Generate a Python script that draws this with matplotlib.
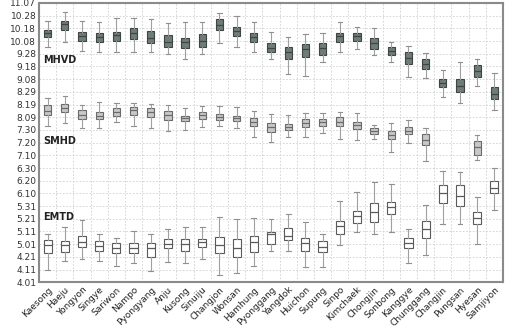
import matplotlib
matplotlib.use('Agg')
import matplotlib.pyplot as plt

stations = ['Kaesong', 'Haeju', 'Yongyon', 'Singye', 'Sariwon', 'Nampo', 'Pyongyang',
            'Anju', 'Kusong', 'Sinuiju', 'Changjon', 'Wonsan', 'Hamhung', 'Pyonggang',
            'Yangdok', 'Huichon', 'Supung', 'Sinpo', 'Kimchaek', 'Chongjin', 'Sonbong',
            'Kanggye', 'Chunggang', 'Changjin', 'Pungsan', 'Hyesan', 'Samjiyon']

# y tick labels (dates, evenly spaced) from bottom to top
ytick_labels = ['4.01', '4.11', '4.21', '5.01', '5.11', '5.21', '5.31', '6.10', '6.20',
                '6.30', '7.10', '7.20', '7.30', '8.09', '8.19', '8.29', '9.08', '9.18',
                '9.28', '10.08', '10.18', '10.28', '11.07']

# each entry: (whisker high, q3, median, q1, whisker low) in tick-index units
mhvd = [(20.60, 19.87, 19.61, 19.29, 18.51), (21.31, 20.60, 20.32, 19.87, 18.90),
        (20.60, 19.73, 19.42, 19.00, 18.21), (20.47, 19.61, 19.29, 18.90, 18.11),
        (20.79, 19.73, 19.47, 19.03, 18.11), (20.79, 20.00, 19.61, 19.16, 18.11),
        (20.71, 19.79, 19.21, 18.82, 18.11), (20.44, 19.47, 18.96, 18.53, 17.98),
        (20.52, 19.21, 18.90, 18.43, 17.58), (20.52, 19.53, 19.03, 18.51, 17.98),
        (21.23, 20.71, 20.26, 19.87, 18.82), (20.99, 20.08, 19.79, 19.40, 18.51),
        (20.52, 19.61, 19.29, 18.90, 18.16), (19.69, 18.82, 18.43, 18.11, 17.58),
        (19.29, 18.51, 18.11, 17.58, 16.40), (19.53, 18.77, 18.35, 17.72, 16.27),
        (19.61, 18.82, 18.43, 17.90, 17.32), (20.47, 19.61, 19.40, 18.95, 18.16),
        (20.08, 19.61, 19.40, 19.00, 18.37), (20.00, 19.26, 18.82, 18.37, 17.90),
        (18.95, 18.51, 18.21, 17.90, 17.32), (18.61, 18.16, 17.64, 17.19, 16.19),
        (18.03, 17.56, 17.17, 16.80, 16.06), (16.72, 15.99, 15.72, 15.40, 14.57),
        (17.37, 15.99, 15.48, 15.01, 14.10), (17.58, 17.11, 16.64, 16.14, 15.48),
        (16.46, 15.40, 14.80, 14.41, 13.57)]

smhd = [(14.49, 13.96, 13.49, 13.17, 12.31), (14.67, 14.02, 13.70, 13.39, 12.57),
        (13.96, 13.57, 13.17, 12.86, 12.13), (14.22, 13.43, 13.12, 12.84, 12.13),
        (14.10, 13.70, 13.43, 13.12, 12.60), (14.10, 13.78, 13.57, 13.17, 12.31),
        (14.04, 13.70, 13.39, 13.04, 12.13), (13.96, 13.49, 13.17, 12.78, 11.92),
        (13.75, 13.12, 12.96, 12.70, 11.99), (13.88, 13.43, 13.17, 12.86, 12.21),
        (13.88, 13.23, 13.04, 12.78, 12.33), (13.83, 13.12, 12.92, 12.70, 12.13),
        (13.49, 12.96, 12.65, 12.33, 11.47), (13.25, 12.57, 12.21, 11.81, 11.07),
        (13.17, 12.47, 12.25, 11.99, 11.47), (13.36, 12.84, 12.52, 12.21, 11.47),
        (13.31, 12.86, 12.60, 12.31, 11.78), (13.39, 12.99, 12.65, 12.31, 11.26),
        (13.36, 12.65, 12.39, 12.07, 11.21), (12.39, 12.13, 11.92, 11.68, 11.29),
        (12.52, 11.94, 11.60, 11.26, 10.29), (12.78, 12.21, 11.94, 11.68, 10.99),
        (12.13, 11.66, 11.21, 10.81, 9.55), None, None,
        (11.60, 11.15, 10.66, 9.99, 9.63), None]

emtd = [(3.78, 3.33, 2.94, 2.29, 0.97), (4.38, 3.28, 2.94, 2.36, 1.70),
        (4.91, 3.65, 3.20, 2.76, 1.81), (3.80, 3.28, 2.88, 2.49, 1.70),
        (3.47, 3.07, 2.68, 2.29, 1.29), (4.06, 3.07, 2.68, 2.29, 1.50),
        (3.80, 3.07, 2.68, 2.02, 0.92), (4.17, 3.43, 3.04, 2.68, 1.60),
        (4.38, 3.39, 3.02, 2.49, 1.50), (4.38, 3.41, 3.15, 2.76, 1.81),
        (5.17, 3.59, 2.94, 2.29, 0.58), (4.99, 3.43, 2.68, 1.97, 0.76),
        (5.04, 3.65, 3.15, 2.36, 1.29), (4.99, 3.94, 3.84, 3.02, 2.49),
        (5.38, 4.30, 3.65, 3.33, 2.47), (4.77, 3.47, 3.07, 2.49, 1.18),
        (3.78, 3.28, 2.76, 2.36, 1.18), (6.40, 4.85, 4.43, 3.80, 2.94),
        (7.09, 5.64, 5.22, 4.69, 3.99), (7.92, 6.27, 5.51, 4.73, 3.80),
        (7.72, 6.35, 5.95, 5.36, 3.99), (4.17, 3.47, 3.07, 2.68, 1.50),
        (6.09, 4.83, 4.17, 3.47, 2.15), (8.79, 7.66, 7.01, 6.27, 4.59),
        (8.66, 7.66, 6.82, 6.03, 4.59), (6.69, 5.56, 5.04, 4.57, 3.01),
        (8.98, 8.00, 7.45, 7.01, 5.69)]


def to_stats(series):
    stats, pos = [], []
    for i, s in enumerate(series):
        if s is None:
            continue
        hi, q3, med, q1, lo = s
        stats.append({'whishi': hi, 'q3': q3, 'med': med, 'q1': q1, 'whislo': lo,
                      'fliers': []})
        pos.append(i)
    return stats, pos


fig = plt.figure(figsize=(5.07, 3.29), dpi=100)
ax = fig.add_axes([0.077, 0.142, 0.915, 0.849])

styles = [(mhvd, '#6f7c78', '#3f4543', 0.42),
          (smhd, '#c8c8c8', '#6a6a6a', 0.42),
          (emtd, 'white', '#5a5a5a', 0.48)]
for series, fill, edge, w in styles:
    stats, pos = to_stats(series)
    ax.bxp(stats, positions=pos, widths=w, patch_artist=True, showfliers=False,
           boxprops=dict(facecolor=fill, edgecolor=edge, linewidth=0.8),
           medianprops=dict(color=edge, linewidth=0.9),
           whiskerprops=dict(color='#a0a0a0', linewidth=0.8),
           capprops=dict(color='#909090', linewidth=0.8),
           capwidths=w * 0.6, zorder=3)

ax.set_xlim(-0.5, len(stations) - 0.5)
ax.set_ylim(0, 22)
ax.set_yticks(range(len(ytick_labels)))
ax.set_yticklabels(ytick_labels, fontsize=6.5, color='#333333')
ax.set_xticks(range(len(stations)))
ax.set_xticklabels(stations, rotation=45, ha='right', rotation_mode='anchor',
                   fontsize=6.5, color='#222222')
ax.set_xticks([i + 0.5 for i in range(len(stations) - 1)], minor=True)
ax.tick_params(axis='both', which='both', length=0, pad=2)

ax.grid(True, axis='y', which='major', linestyle=(0, (2, 2)), color='#cfcfcf', linewidth=0.6)
ax.grid(True, axis='x', which='minor', linestyle=(0, (2, 2)), color='#cfcfcf', linewidth=0.6)
ax.set_axisbelow(True)

for sp in ax.spines.values():
    sp.set_color('#8a8a8a')
    sp.set_linewidth(1.5)

ax.text(-0.25, 17.3, 'MHVD', fontsize=7, fontweight='bold', color='#222222')
ax.text(-0.25, 10.9, 'SMHD', fontsize=7, fontweight='bold', color='#222222')
ax.text(-0.25, 4.9, 'EMTD', fontsize=7, fontweight='bold', color='#222222')

fig.savefig('out.png', dpi=100)
